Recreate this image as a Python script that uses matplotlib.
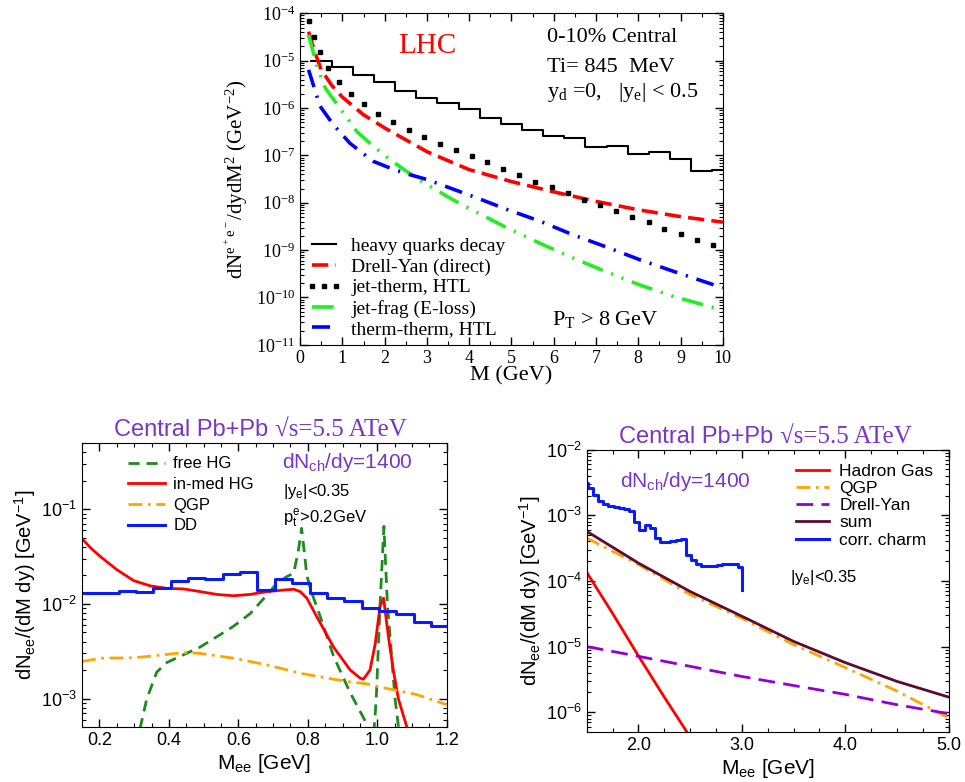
import numpy as np
import matplotlib
matplotlib.use('Agg')
import matplotlib.pyplot as plt
from matplotlib.ticker import LogLocator, MultipleLocator, NullFormatter

plt.rcParams['font.family'] = ['Liberation Sans', 'DejaVu Sans']
plt.rcParams['mathtext.default'] = 'regular'

SERIF = ['Liberation Serif', 'DejaVu Serif']
PURPLE = '#7b35c6'

# ---------------- top panel (LHC, P_T > 8 GeV) ----------------
hq_edges = [0.25, 0.75, 1.25, 1.75, 2.25, 2.75, 3.25, 3.75, 4.25, 4.75, 5.25,
            5.75, 6.25, 6.75, 7.25, 7.75, 8.25, 8.75, 9.25, 9.75, 10.25]
hq_vals = [9.9e-6, 7.5e-6, 5.0e-6, 3.5e-6, 2.3e-6, 1.6e-6, 1.26e-6, 9.5e-7,
           6.2e-7, 4.7e-7, 3.5e-7, 2.6e-7, 2.3e-7, 1.5e-7, 1.6e-7, 1.07e-7,
           1.2e-7, 8.5e-8, 4.6e-8, 5.0e-8]

dy_m = [0.2, 0.35, 0.5, 0.75, 1.0, 1.5, 2.0, 3.0, 4.0, 5.0, 6.0, 7.0, 8.0, 9.0, 10.0]
dy_v = [4.1e-5, 1.5e-5, 6.4e-6, 3.0e-6, 1.7e-6, 7.2e-7, 3.8e-7, 1.2e-7, 5.0e-8,
        2.8e-8, 1.7e-8, 1.07e-8, 7.1e-9, 5.1e-9, 3.9e-9]

jt_m = [0.22, 0.33, 0.47, 0.67, 0.91, 1.20, 1.51, 1.85, 2.20, 2.57, 2.94, 3.31,
        3.69, 4.06, 4.43, 4.81, 5.18, 5.56, 5.95, 6.34, 6.72, 7.09, 7.48, 7.86,
        8.25, 8.62, 9.02, 9.39, 9.76]
jt_v = [7e-5, 3.2e-5, 1.5e-5, 6.9e-6, 3.6e-6, 1.95e-6, 1.2e-6, 7.4e-7, 5e-7,
        3.5e-7, 2.5e-7, 1.77e-7, 1.27e-7, 9.8e-8, 7.1e-8, 5.1e-8, 3.8e-8, 2.8e-8,
        2.1e-8, 1.6e-8, 1.16e-8, 8.9e-9, 6.6e-9, 5e-9, 3.9e-9, 2.8e-9, 2.2e-9,
        1.66e-9, 1.29e-9]

jf_m = [0.2, 0.4, 0.6, 0.94, 1.34, 1.73, 2.13, 2.52, 2.91, 3.62, 4.09, 4.88,
        5.67, 6.46, 7.24, 8.03, 8.82, 10.0]
jf_v = [3.5e-5, 7.5e-6, 2.6e-6, 1e-6, 3.2e-7, 1.56e-7, 8.1e-8, 4.6e-8, 2.7e-8,
        1.15e-8, 6.9e-9, 3e-9, 1.4e-9, 6.8e-10, 3.5e-10, 1.85e-10, 1.06e-10, 5.4e-11]

tt_m = [0.2, 0.47, 0.79, 1.18, 1.73, 2.13, 2.52, 3.0, 4.09, 4.88, 5.67, 6.46,
        7.24, 8.03, 8.82, 10.0]
tt_v = [6.4e-6, 1.1e-6, 4.4e-7, 1.8e-7, 7.5e-8, 5.4e-8, 4.1e-8, 3.1e-8, 1.36e-8,
        7.3e-9, 4.1e-9, 2.1e-9, 1.17e-9, 6.3e-10, 3.6e-10, 1.6e-10]

# ---------------- bottom left (low mass) ----------------
dd_edges = [0.15, 0.205, 0.255, 0.305, 0.355, 0.405, 0.455, 0.505, 0.555, 0.605,
            0.655, 0.705, 0.755, 0.805, 0.855, 0.905, 0.955, 1.005, 1.055, 1.105,
            1.155, 1.2]
dd_vals = [0.0132, 0.0132, 0.0137, 0.0135, 0.0149, 0.0176, 0.0187, 0.0182,
           0.0208, 0.0216, 0.0141, 0.0182, 0.0165, 0.0132, 0.0115, 0.0108,
           0.0090, 0.0084, 0.0078, 0.0065, 0.0058]

inmed_m = [0.15, 0.175, 0.203, 0.251, 0.299, 0.347, 0.394, 0.442, 0.49, 0.538,
           0.586, 0.634, 0.682, 0.73, 0.759, 0.778, 0.797, 0.826, 0.874, 0.922,
           0.951, 0.96, 0.979, 0.994, 1.008, 1.018, 1.032, 1.046, 1.061, 1.085, 1.095]
inmed_v = [0.049, 0.039, 0.0316, 0.0229, 0.0176, 0.0155, 0.0146, 0.0144, 0.0135,
           0.0126, 0.0122, 0.0126, 0.0135, 0.014, 0.0143, 0.0135, 0.0115, 0.0073,
           0.0035, 0.0020, 0.00164, 0.0016, 0.0020, 0.0038, 0.0095, 0.0115,
           0.0045, 0.0020, 0.00098, 0.0005, 0.0004]

free_m = [0.30, 0.318, 0.336, 0.365, 0.394, 0.442, 0.49, 0.538, 0.586, 0.634,
          0.682, 0.711, 0.74, 0.759, 0.773, 0.782, 0.79, 0.797, 0.81, 0.836,
          0.874, 0.922, 0.965, 0.98, 0.987, 0.997, 1.008, 1.019, 1.029, 1.051,
          1.061, 1.08]
free_v = [2e-4, 5e-4, 9.8e-4, 1.9e-3, 2.4e-3, 2.9e-3, 3.5e-3, 4.5e-3, 5.8e-3,
          7.9e-3, 1.24e-2, 1.65e-2, 1.95e-2, 2.1e-2, 3.7e-2, 6.3e-2, 3.5e-2,
          2.0e-2, 1.35e-2, 7.3e-3, 2.8e-3, 1.15e-3, 5.8e-4, 4.2e-4, 3e-4, 1e-3,
          1e-2, 6.6e-2, 1e-2, 1e-3, 5e-4, 2e-4]

qgp_m = [0.15, 0.203, 0.299, 0.347, 0.442, 0.49, 0.586, 0.682, 0.778, 0.874,
         0.922, 0.97, 1.018, 1.114, 1.2]
qgp_v = [0.00246, 0.00267, 0.0027, 0.0028, 0.00306, 0.003, 0.00267, 0.00227,
         0.00185, 0.0016, 0.0015, 0.00143, 0.0013, 0.0011, 0.00086]

# ---------------- bottom right (intermediate mass) ----------------
cc_edges = [1.46, 1.51, 1.56, 1.61, 1.66, 1.71, 1.76, 1.81, 1.86, 1.91, 1.96,
            2.01, 2.06, 2.11, 2.16, 2.21, 2.26, 2.31, 2.36, 2.41, 2.46, 2.51,
            2.56, 2.61, 2.66, 2.71, 2.76, 2.81, 2.86, 2.91, 2.96, 3.0]
cc_vals = [3.1e-3, 2.6e-3, 2.07e-3, 1.63e-3, 1.46e-3, 1.40e-3, 1.36e-3, 1.3e-3,
           1.26e-3, 1.15e-3, 7.8e-4, 6.0e-4, 7.2e-4, 6.4e-4, 4.5e-4, 3.9e-4,
           3.9e-4, 4.0e-4, 4.2e-4, 4.4e-4, 2.5e-4, 2.07e-4, 1.78e-4, 1.7e-4,
           1.68e-4, 1.7e-4, 1.75e-4, 1.78e-4, 1.8e-4, 1.78e-4, 1.62e-4]
cc_end = 7.4e-5

hg_m = [1.5, 1.75, 2.0, 2.25, 2.5]
hg_v = [1.35e-4, 3.2e-5, 7.2e-6, 1.7e-6, 4.2e-7]

m2 = [1.5, 2.0, 2.5, 3.0, 3.5, 4.0, 4.5, 5.0]
qgp2_v = [4.5e-4, 1.78e-4, 6.2e-5, 2.7e-5, 1.07e-5, 4.8e-6, 2.1e-6, 8.2e-7]
dy2_v = [1e-5, 7.1e-6, 5e-6, 3.5e-6, 2.55e-6, 1.87e-6, 1.3e-6, 9.5e-7]
sum_v = [5.7e-4, 1.87e-4, 6.9e-5, 2.9e-5, 1.2e-5, 5.7e-6, 2.95e-6, 1.7e-6]


def hist_xy(edges, vals):
    xs = np.repeat(edges, 2)[1:-1]
    ys = np.repeat(vals, 2)
    return xs, ys


def style_axes(ax, size):
    ax.tick_params(which='both', direction='in', top=True, right=True, labelsize=size)
    ax.tick_params(which='major', length=6, width=1)
    ax.tick_params(which='minor', length=3, width=0.8)
    ax.yaxis.set_minor_locator(LogLocator(base=10, subs=np.arange(2, 10)))
    ax.yaxis.set_minor_formatter(NullFormatter())


fig = plt.figure(figsize=(9.65, 7.82), dpi=100)

# ---- top ----
ax1 = fig.add_axes([0.311, 0.559, 0.438, 0.424])
ax1.set_yscale('log')
x, y = hist_xy(hq_edges, hq_vals)
ax1.plot(x, y, color='black', lw=1.5, label='heavy quarks decay')
ax1.plot(dy_m, dy_v, color='red', lw=2.6, ls=(0, (4.5, 2)), label='Drell-Yan (direct)')
ax1.plot(jt_m, jt_v, color='black', ls='none', marker='s', ms=3, label='jet-therm, HTL')
ax1.plot(jf_m, jf_v, color='#22ee22', lw=2.6, ls=(0, (6, 2.5, 0.6, 2.5, 0.6, 2.5)),
         label='jet-frag (E-loss)')
ax1.plot(tt_m, tt_v, color='blue', lw=2.6, ls=(0, (5, 2.5, 0.6, 2.5)),
         label='therm-therm, HTL')
ax1.set_xlim(0, 10)
ax1.set_ylim(1e-11, 1e-4)
ax1.xaxis.set_major_locator(MultipleLocator(1))
ax1.xaxis.set_minor_locator(MultipleLocator(0.5))
style_axes(ax1, 13)
ax1.tick_params(labelfontfamily=SERIF)
ax1.set_xlabel('M (GeV)', family=SERIF, fontsize=16, labelpad=0)
ax1.set_ylabel(r'dN$^{e^+e^-}$/dydM$^2$ (GeV$^{-2}$)', family=SERIF, fontsize=15, labelpad=4)
ax1.text(0.30, 0.88, 'LHC', color='red', family=SERIF, fontsize=21,
         ha='center', va='baseline', transform=ax1.transAxes)
ax1.text(0.584, 0.913, '0-10% Central', family=SERIF, fontsize=16, va='baseline',
         transform=ax1.transAxes)
ax1.text(0.584, 0.822, 'Ti= 845  MeV', family=SERIF, fontsize=16, va='baseline',
         transform=ax1.transAxes)
ax1.text(0.584, 0.747, r'y$_d$ =0,   |y$_e$| < 0.5', family=SERIF, fontsize=16,
         va='baseline', transform=ax1.transAxes)
ax1.text(0.596, 0.060, r'P$_T$ > 8 GeV', family=SERIF, fontsize=16, va='baseline',
         transform=ax1.transAxes)
ax1.legend(loc='lower left', bbox_to_anchor=(-0.022, -0.027), frameon=False,
           prop={'family': SERIF, 'size': 14}, handlelength=1.8, handletextpad=0.5,
           labelspacing=0.16, numpoints=3, borderpad=0.3)

# ---- bottom left ----
ax2 = fig.add_axes([0.085, 0.0703, 0.378, 0.363])
ax2.set_yscale('log')
ax2.plot(free_m, free_v, color='#1f8a1f', lw=2, ls=(0, (4, 2.5)), label='free HG')
ax2.plot(inmed_m, inmed_v, color='red', lw=2, label='in-med HG')
ax2.plot(qgp_m, qgp_v, color='orange', lw=2, ls=(0, (5, 2, 1, 2)), label='QGP')
x, y = hist_xy(dd_edges, dd_vals)
ax2.plot(x, y, color='#0a1aff', lw=2.2, label='DD')
ax2.set_xlim(0.15, 1.2)
ax2.set_ylim(5e-4, 0.5)
ax2.xaxis.set_major_locator(MultipleLocator(0.2))
ax2.xaxis.set_minor_locator(MultipleLocator(0.05))
ax2.xaxis.set_major_formatter(matplotlib.ticker.FormatStrFormatter('%.1f'))
style_axes(ax2, 13)
ax2.set_xlabel(r'M$_{ee}$ [GeV]', fontsize=15, labelpad=2)
ax2.set_ylabel(r'dN$_{ee}$/(dM dy) [GeV$^{-1}$]', fontsize=14.5, labelpad=2)
ax2.text(0.529, 1.025, 'Central Pb+Pb ', color=PURPLE, fontsize=17, ha='right',
         va='baseline', transform=ax2.transAxes)
ax2.text(0.529, 1.025, '\u221as=5.5 ATeV', color=PURPLE, family=SERIF, fontsize=18,
         ha='left', va='baseline', transform=ax2.transAxes)
ax2.text(0.548, 0.912, r'dN$_{ch}$/dy=1400', color=PURPLE, fontsize=15,
         va='baseline', transform=ax2.transAxes)
ax2.text(0.551, 0.813, r'|y$_e$|<0.35', fontsize=12, va='baseline', transform=ax2.transAxes)
ax2.text(0.551, 0.718, r'p$_t^e$>0.2GeV', fontsize=12, va='baseline', transform=ax2.transAxes)
ax2.legend(loc='upper left', bbox_to_anchor=(0.09, 1.0), frameon=False, fontsize=12,
           handlelength=2.2, handletextpad=0.5, labelspacing=0.34, borderpad=0.3)

# ---- bottom right ----
ax3 = fig.add_axes([0.608, 0.064, 0.375, 0.361])
ax3.set_yscale('log')
ax3.plot(hg_m, hg_v, color='red', lw=2, label='Hadron Gas')
ax3.plot(m2, qgp2_v, color='orange', lw=2, ls=(0, (5, 2, 1, 2)), label='QGP')
ax3.plot(m2, dy2_v, color='#9400d3', lw=2, ls=(0, (6, 3)), label='Drell-Yan')
ax3.plot(m2, sum_v, color='#5c0a30', lw=2, label='sum')
x, y = hist_xy(cc_edges, cc_vals)
x = np.append(x, cc_edges[-1])
y = np.append(y, cc_end)
ax3.plot(x, y, color='#0a1aff', lw=2.2, label='corr. charm')
ax3.set_xlim(1.5, 5.0)
ax3.set_ylim(5e-7, 1e-2)
ax3.xaxis.set_major_locator(MultipleLocator(1.0))
ax3.xaxis.set_minor_locator(MultipleLocator(0.25))
ax3.xaxis.set_major_formatter(matplotlib.ticker.FormatStrFormatter('%.1f'))
style_axes(ax3, 13)
ax3.set_xlabel(r'M$_{ee}$ [GeV]', fontsize=15, labelpad=2)
ax3.set_ylabel(r'dN$_{ee}$/(dM dy) [GeV$^{-1}$]', fontsize=14.5, labelpad=2)
ax3.text(0.533, 1.025, 'Central Pb+Pb ', color=PURPLE, fontsize=17, ha='right',
         va='baseline', transform=ax3.transAxes)
ax3.text(0.533, 1.025, '\u221as=5.5 ATeV', color=PURPLE, family=SERIF, fontsize=18,
         ha='left', va='baseline', transform=ax3.transAxes)
ax3.text(0.091, 0.869, r'dN$_{ch}$/dy=1400', color=PURPLE, fontsize=15,
         va='baseline', transform=ax3.transAxes)
ax3.text(0.561, 0.532, r'|y$_e$|<0.35', fontsize=12, va='baseline', transform=ax3.transAxes)
ax3.legend(loc='upper left', bbox_to_anchor=(0.54, 1.0), frameon=False, fontsize=12.5,
           handlelength=1.9, handletextpad=0.6, labelspacing=0.12, borderpad=0.3)

fig.savefig('out.png', dpi=100)
